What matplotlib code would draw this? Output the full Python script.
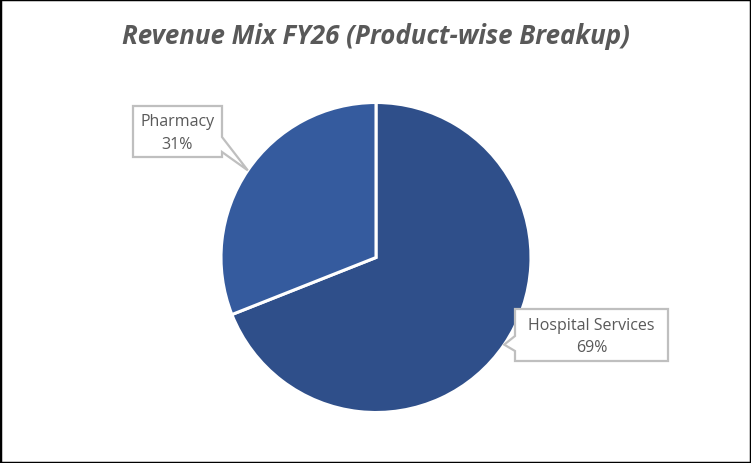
import numpy as np
import matplotlib
matplotlib.use("Agg")
import matplotlib.pyplot as plt
from matplotlib.patches import Polygon, Rectangle

# ---- data ----
categories = ["Hospital Services", "Pharmacy"]
shares = [69, 31]
colors = ["#2F4F8A", "#355B9E"]
title = "Revenue Mix FY26 (Product-wise Breakup)"

W, H = 751, 464
fig = plt.figure(figsize=(W / 100, H / 100), dpi=100)
ax = fig.add_axes([0, 0, 1, 1])

def Y(y_img):
    return H - y_img

cx, cy, R = 376, Y(258.5), 155
wedges, _ = ax.pie(shares, colors=colors, startangle=90, counterclock=False,
                   center=(cx, cy), radius=R, frame=True,
                   wedgeprops=dict(edgecolor="white", linewidth=2.2))
ax.set_xlim(0, W)
ax.set_ylim(0, H)
ax.set_aspect("equal")
ax.axis("off")

fig.text(0.5, Y(37) / H, title, ha="center", va="center", fontsize=18.6,
         fontweight="bold", fontstyle="italic", color="#595959", family="Open Sans")

# callout boxes: (left, top, right, bottom) in image px, pointer side
boxes = {
    "Pharmacy": dict(box=(133, 107, 222, 158), side="right", base=(138, 153)),
    "Hospital Services": dict(box=(515, 310, 668, 362), side="left", base=(337, 352)),
}

edge = "#BFBFBF"
for w, cat, val in zip(wedges, categories, shares):
    mid = np.deg2rad((w.theta1 + w.theta2) / 2)
    tip = (cx + R * np.cos(mid), cy + R * np.sin(mid))
    b = boxes[cat]
    l, t, r, btm = b["box"]
    b0, b1 = b["base"]
    if b["side"] == "right":
        pts = [(l, Y(t)), (r, Y(t)), (r, Y(b0)), tip, (r, Y(b1)), (r, Y(btm)), (l, Y(btm))]
    else:
        pts = [(l, Y(t)), (r, Y(t)), (r, Y(btm)), (l, Y(btm)), (l, Y(b1)), tip, (l, Y(b0))]
    ax.add_patch(Polygon(pts, closed=True, facecolor="white", edgecolor=edge,
                         linewidth=1.6, zorder=5))
    ax.text((l + r) / 2, Y((t + btm) / 2 + 1), f"{cat}\n{val}%", ha="center", va="center",
            fontsize=11.5, color="#595959", family="Open Sans", linespacing=1.55, zorder=6)

# outer black frame
fig.patches.append(Rectangle((0, 0), 1, 1, transform=fig.transFigure, fill=False,
                             edgecolor="black", linewidth=2.5, zorder=10))

fig.savefig("out.png", dpi=100)
